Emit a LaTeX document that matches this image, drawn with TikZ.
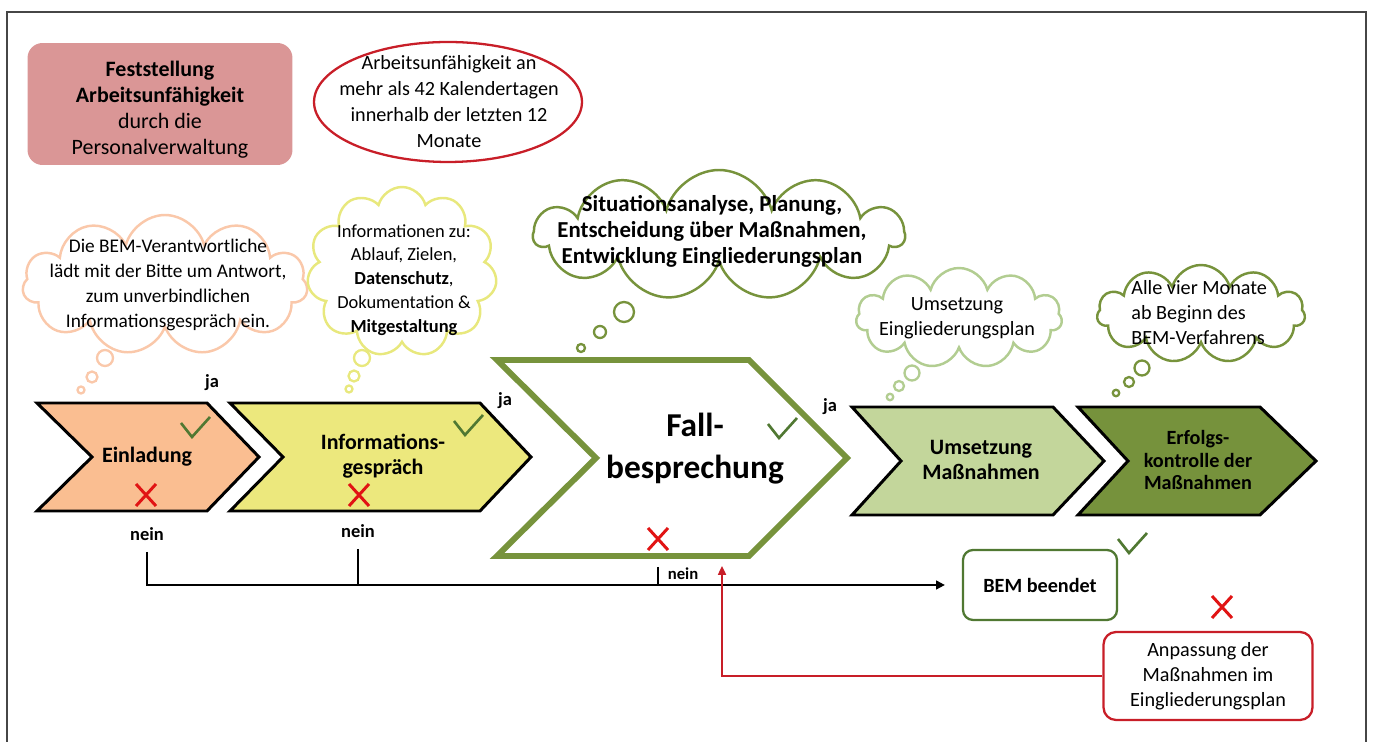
\documentclass[tikz,border=0pt]{standalone}
\usepackage{fontspec}
\setmainfont{Carlito}
\usetikzlibrary{shapes.symbols,shapes.geometric,arrows.meta}

\begin{document}
\begin{tikzpicture}[x=0.02cm,y=-0.02cm]

\definecolor{c_frame}{RGB}{70,70,70}
\definecolor{c_pink}{RGB}{218,150,150}
\definecolor{c_red}{RGB}{200,30,40}
\definecolor{c_cross}{RGB}{225,20,20}
\definecolor{c_peach}{RGB}{250,200,170}
\definecolor{c_yellow}{RGB}{232,232,125}
\definecolor{c_green}{RGB}{119,147,60}
\definecolor{c_lightgreen}{RGB}{178,205,145}
\definecolor{c_check}{RGB}{80,120,50}
\definecolor{c_einl}{RGB}{250,190,145}
\definecolor{c_info}{RGB}{236,232,125}
\definecolor{c_umsetz}{RGB}{195,214,155}
\definecolor{c_erfolg}{RGB}{118,146,60}

\tikzset{
  txt/.style={align=center, inner sep=0pt, font=\fontsize{11.5}{14.2}\selectfont},
  boldtxt/.style={txt, font=\fontsize{12.5}{14.2}\selectfont\bfseries},
  smalltxt/.style={txt, font=\fontsize{10.5}{12}\selectfont\bfseries},
  cloudshape/.style={cloud, cloud puffs=11, cloud ignores aspect, fill=white, line width=1.4pt, inner sep=0pt},
  bubble/.style={circle, fill=white, line width=1.3pt, inner sep=0pt},
  chev/.style={draw=black, line width=1.7pt},
  flowline/.style={draw=black, line width=1.1pt},
  redline/.style={draw=c_red, line width=1.1pt},
  okmark/.pic={\draw[c_check, line width=1.5pt] (-15,-4) -- (-4,10) -- (14,-10);},
  nomark/.pic={\draw[c_cross, line width=1.7pt] (-10,-11) -- (10,11) (-10,11) -- (10,-11);}
}

\useasboundingbox (0,0) rectangle (1377,742);

% Frame
\draw[c_frame, line width=1.1pt] (7,760) -- (7,12) -- (1366,12) -- (1366,760);

% Start
\node (feststellung) at (160,104) [rectangle, rounded corners=0.3cm, fill=c_pink, minimum width=5.3cm, minimum height=2.44cm] {};
\node (feststellungtxt) at (160,110) [txt, font=\fontsize{12.5}{14.8}\selectfont]
  {\textbf{Feststellung}\\\textbf{Arbeitsunfähigkeit}\\durch die\\Personalverwaltung};
\node (kriterium) at (448,102) [ellipse, draw=c_red, line width=1.3pt, minimum width=5.36cm, minimum height=2.4cm] {};
\node (kriteriumtxt) at (449,102) [txt, font=\fontsize{11.5}{14.8}\selectfont] {Arbeitsunfähigkeit an\\mehr als 42 Kalendertagen\\innerhalb der letzten 12\\Monate};

% Clouds
\node (cloudeinl) at (165,285) [cloudshape, draw=c_peach, minimum width=5.7cm, minimum height=2.8cm] {};
\node (texteinl) at (168,285) [txt, font=\fontsize{11}{14.2}\selectfont] {Die BEM-Verantwortliche\\lädt mit der Bitte um Antwort,\\zum unverbindlichen\\Informationsgespräch ein.};
\node (beinl1) at (105,358) [bubble, draw=c_peach, minimum size=0.32cm] {};
\node (beinl2) at (92,377) [bubble, draw=c_peach, minimum size=0.22cm] {};
\node (beinl3) at (81,390) [bubble, draw=c_peach, minimum size=0.14cm] {};

\node (cloudinfo) at (402,272) [cloudshape, draw=c_yellow, minimum width=3.8cm, minimum height=3.4cm] {};
\node (textinfo) at (404,280) [txt, font=\fontsize{10.5}{13.6}\selectfont] {Informationen zu:\\Ablauf, Zielen,\\\textbf{Datenschutz},\\Dokumentation \&\\\textbf{Mitgestaltung}};
\node (binfo1) at (362,358) [bubble, draw=c_yellow, minimum size=0.32cm] {};
\node (binfo2) at (354,376) [bubble, draw=c_yellow, minimum size=0.22cm] {};
\node (binfo3) at (349,389) [bubble, draw=c_yellow, minimum size=0.14cm] {};

\node (cloudfall) at (719,235) [cloudshape, draw=c_green, minimum width=7.4cm, minimum height=2.6cm] {};
\node (textfall) at (712,231) [txt, font=\fontsize{13}{14.8}\selectfont\bfseries] {Situationsanalyse, Planung,\\Entscheidung über Maßnahmen,\\Entwicklung Eingliederungsplan};
\node (bfall1) at (624,312) [bubble, draw=c_green, minimum size=0.4cm] {};
\node (bfall2) at (600,332) [bubble, draw=c_green, minimum size=0.24cm] {};
\node (bfall3) at (581,348) [bubble, draw=c_green, minimum size=0.16cm] {};

\node (cloudumsetz) at (959,318) [cloudshape, draw=c_lightgreen, minimum width=4.12cm, minimum height=2cm] {};
\node (textumsetz) at (957,318) [txt] {Umsetzung\\Eingliederungsplan};
\node (bumsetz1) at (912,373) [bubble, draw=c_lightgreen, minimum size=0.3cm] {};
\node (bumsetz2) at (899,386) [bubble, draw=c_lightgreen, minimum size=0.2cm] {};
\node (bumsetz3) at (890,397) [bubble, draw=c_lightgreen, minimum size=0.13cm] {};

\node (clouderfolg) at (1201,314) [cloudshape, draw=c_green, minimum width=4.16cm, minimum height=1.96cm] {};
\node (texterfolg) at (1131,313) [txt, align=left, anchor=west] {Alle vier Monate\\ab Beginn des\\BEM-Verfahrens};
\node (berfolg1) at (1142,368) [bubble, draw=c_green, minimum size=0.3cm] {};
\node (berfolg2) at (1129,382) [bubble, draw=c_green, minimum size=0.2cm] {};
\node (berfolg3) at (1116,393) [bubble, draw=c_green, minimum size=0.13cm] {};

% Steps
\draw[chev, fill=c_einl] (37,403) -- (207,403) -- (259,457) -- (207,511) -- (37,511) -- (92,457) -- cycle;
\draw[chev, fill=c_info] (230,403) -- (480,403) -- (531,457) -- (480,511) -- (230,511) -- (283,457) -- cycle;
\draw[draw=c_green, line width=3.4pt, fill=white] (497,360) -- (749,360) -- (847,458) -- (749,556) -- (497,556) -- (596,458) -- cycle;
\draw[chev, fill=c_umsetz] (852,407) -- (1053,407) -- (1104,461) -- (1053,515) -- (852,515) -- (901,461) -- cycle;
\draw[chev, fill=c_erfolg] (1078,407) -- (1260,407) -- (1316,461) -- (1260,515) -- (1078,515) -- (1128,461) -- cycle;

\node (einladung) at (147,457) [boldtxt] {Einladung};
\node (infogespraech) at (383,456) [boldtxt] {Informations-\\gespräch};
\node (fallbespr) at (695,449) [txt, font=\fontsize{19}{24}\selectfont\bfseries] {Fall-\\besprechung};
\node (umsetzung) at (981,460) [boldtxt] {Umsetzung\\Maßnahmen};
\node (erfolgskontr) at (1198,460) [txt, font=\fontsize{11.5}{13}\selectfont\bfseries] {Erfolgs-\\kontrolle der\\Maßnahmen};

% Decisions
\pic at (196,427) {okmark};
\pic at (469,425) {okmark};
\pic at (783,428) {okmark};
\pic at (1133,543) {okmark};
\pic at (146,495) {nomark};
\pic at (359,495) {nomark};
\pic at (658,539) {nomark};
\pic at (1222,607) {nomark};

\node (ja1) at (212,383) [smalltxt] {ja};
\node (ja2) at (505,401) [smalltxt] {ja};
\node (ja3) at (830,407) [smalltxt] {ja};
\node (nein1) at (147,534) [smalltxt] {nein};
\node (nein2) at (358,531) [smalltxt] {nein};
\node (nein3) at (683,574) [smalltxt, font=\fontsize{9.5}{11}\selectfont\bfseries] {nein};

% End boxes
\node (bem) at (1040,585) [rectangle, rounded corners=0.2cm, draw=c_check, line width=1.3pt, minimum width=3.08cm, minimum height=1.4cm, txt, font=\fontsize{11.5}{14}\selectfont\bfseries] {BEM beendet};
\node (anpassung) at (1208,676) [rectangle, rounded corners=0.25cm, draw=c_red, line width=1.3pt, minimum width=4.18cm, minimum height=1.76cm, txt] {Anpassung der\\Maßnahmen im\\Eingliederungsplan};

% Connectors
\coordinate (fbout) at (658,567);
\coordinate (fbin) at (722,566);
\draw[flowline, shorten <=0.22cm, shorten >=0.34cm, -{Triangle[length=5pt,width=5pt]}] (nein1.south) |- (bem.west);
\draw[flowline, shorten <=0.22cm] (nein2.south) -- (nein2.south |- bem.west);
\draw[flowline] (fbout) -- (fbout |- bem.west);
\draw[redline, -{Triangle[length=5pt,width=4.5pt]}] (anpassung.west) -| (fbin);

\end{tikzpicture}
\end{document}
